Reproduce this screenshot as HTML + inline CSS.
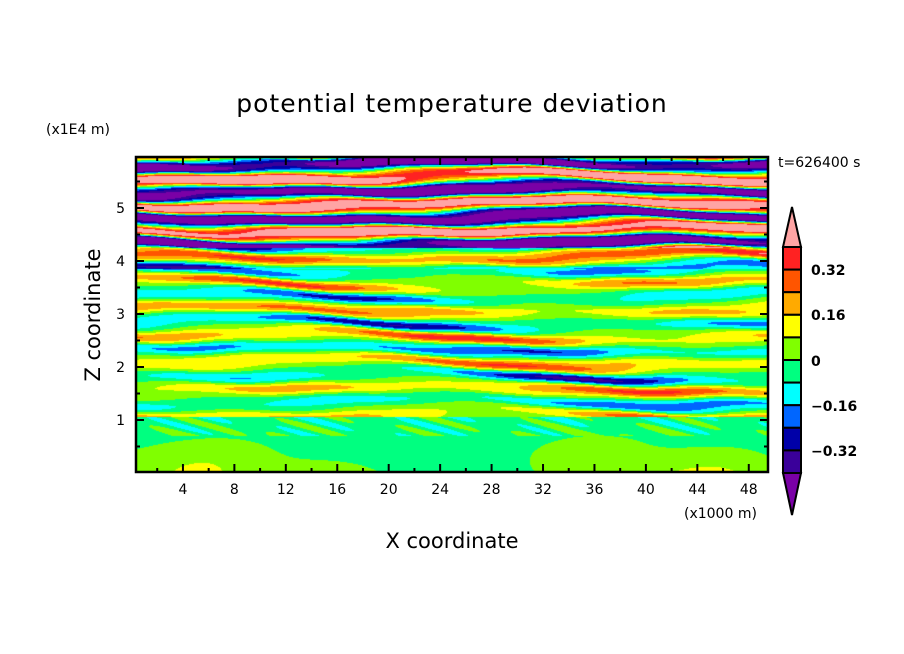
<!DOCTYPE html>
<html><head><meta charset="utf-8"><style>
body{margin:0;background:#fff;width:904px;height:654px;overflow:hidden;font-family:"DejaVu Sans","Liberation Sans",sans-serif}
</style></head><body>
<svg width="904" height="654" style="position:absolute;left:0;top:0" font-family="DejaVu Sans, Liberation Sans, sans-serif">
<text x="452" y="112" font-size="25" text-anchor="middle" letter-spacing="1">potential temperature deviation</text>
<text x="46" y="134" font-size="14">(x1E4 m)</text>
<text x="778" y="167" font-size="14">t=626400 s</text>
<text x="452" y="548" font-size="21" text-anchor="middle">X coordinate</text>
<text x="100" y="315" font-size="21" text-anchor="middle" transform="rotate(-90 100 315)">Z coordinate</text>
<text x="684" y="518" font-size="14">(x1000 m)</text>
<g id="xt" font-size="14" text-anchor="middle"></g>
<g id="yt" font-size="14" text-anchor="end"></g>
</svg>
<canvas id="c" width="632" height="315" style="position:absolute;left:136px;top:157px"></canvas>
<svg width="904" height="654" style="position:absolute;left:0;top:0" font-family="DejaVu Sans, Liberation Sans, sans-serif">
<rect x="136" y="157" width="632" height="315" fill="none" stroke="#000" stroke-width="2.5"/>
<g id="ticks" stroke="#000" stroke-width="2"></g>
<g id="cb" stroke="#000" stroke-width="2"></g>
<g font-size="14" font-weight="bold">
<text x="811" y="275">0.32</text>
<text x="811" y="320">0.16</text>
<text x="811" y="366">0</text>
<text x="811" y="411">−0.16</text>
<text x="811" y="456">−0.32</text>
</g>
</svg>
<script>
var cols=["#7a00a6","#3a009a","#0000a8","#0066ff","#00ffff","#00ff80","#80ff00","#ffff00","#ffaa00","#ff5500","#ff2222","#ffa4a4"];
function rgb(h){return [parseInt(h.substr(1,2),16),parseInt(h.substr(3,2),16),parseInt(h.substr(5,2),16)]}
var C=cols.map(rgb);
var cv=document.getElementById('c'),ctx=cv.getContext('2d'),W=632,H=315;
var im=ctx.createImageData(W,H);
for(var j=0;j<H;j++){var z=6-j/53;
for(var i=0;i<W;i++){var x=0.35+i/12.86;
var v;
var ph=2*Math.PI*z/0.5+0.9*Math.sin(x/8+z*1.3)+0.4*Math.sin(x/3.7+z*2.7)+0.2*Math.sin(x/1.6+z*5);
var w=Math.sin(ph)+0.25*Math.sin(1.7*ph+x/5+z);
if(z>4.3){v=0.55*w+0.08*Math.sin(x/5+z);}
else if(z>1.1){var a=0.16+0.07*Math.sin(x/4+z*3)+0.07*Math.sin(z*2.1+x/9);if(z>3.9)a+=0.1;v=a*w+0.02;}
else{var b=Math.sin(x/5.5+z*1.5)*0.5+0.5;var b2=Math.sin(x/2.2-z*3)*0.5+0.5;
v=-0.04+0.09*(1-z)*b+0.07*b*b2*(1-z)+(z>0.75?0.08*Math.sin(x*1.3+z*20)*Math.sin(x/3):0);}
var k=Math.floor(v/0.08)+6;if(k<0)k=0;if(k>11)k=11;
var p=(j*W+i)*4;im.data[p]=C[k][0];im.data[p+1]=C[k][1];im.data[p+2]=C[k][2];im.data[p+3]=255;}}
ctx.putImageData(im,0,0);
var NS="http://www.w3.org/2000/svg";
function el(g,t,a,txt){var e=document.createElementNS(NS,t);for(var k in a)e.setAttribute(k,a[k]);if(txt!==undefined)e.textContent=txt;document.getElementById(g).appendChild(e);}
for(var n=2;n<=48;n+=2){var X=131.5+n*12.86;var L=(n%4==0)?8:4;
el('ticks','line',{x1:X,y1:472,x2:X,y2:472-L});el('ticks','line',{x1:X,y1:157,x2:X,y2:157+L});
if(n%4==0)el('xt','text',{x:X,y:494},n);}
for(var m=0.5;m<6;m+=0.5){var Y=473-m*53;var L=(m%1==0)?8:4;
el('ticks','line',{x1:136,y1:Y,x2:136+L,y2:Y});el('ticks','line',{x1:768,y1:Y,x2:768-L,y2:Y});
if(m%1==0)el('yt','text',{x:125,y:Y+5},m);}
var cbTop=247,bh=22.6;
el('cb','polygon',{points:"783,"+cbTop+" 792,207 801,"+cbTop,fill:cols[11]});
for(var q=0;q<10;q++){el('cb','rect',{x:783,y:cbTop+q*bh,width:18,height:bh,fill:cols[10-q]});}
el('cb','polygon',{points:"783,"+(cbTop+10*bh)+" 792,515 801,"+(cbTop+10*bh),fill:cols[0]});
</script>
</body></html>
